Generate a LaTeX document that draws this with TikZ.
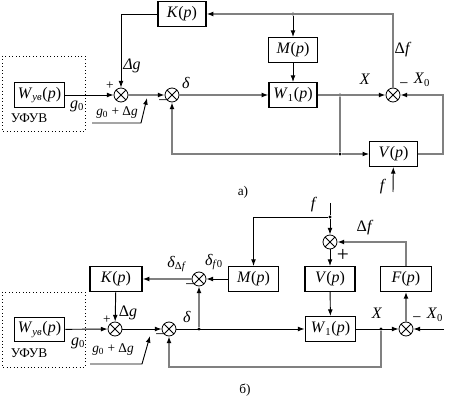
\documentclass[tikz,border=0pt]{standalone}
\usepackage{fontspec}
\setmainfont{Liberation Serif}
\usetikzlibrary{arrows.meta}

\newcommand{\vi}[1]{\textit{#1}}
\newcommand{\sbi}[1]{\textsubscript{#1}}

\begin{document}
\begin{tikzpicture}[
  x=0.75pt,y=-0.75pt,
  >={Latex[length=5pt,width=3.6pt,color=black]},
  blk/.style={draw,line width=0.9pt,minimum height=18.5pt,inner sep=1pt,
    font=\fontsize{12}{14}\selectfont},
  sumj/.style={draw,circle,minimum size=10.5pt,inner sep=0pt,line width=0.6pt,
    path picture={\draw[line width=0.6pt]
      (path picture bounding box.south west) -- (path picture bounding box.north east)
      (path picture bounding box.north west) -- (path picture bounding box.south east);}},
  dk/.style={draw=black,line width=0.7pt},
  gr/.style={draw=black!50,line width=0.9pt},
  jdot/.style={circle,fill=black,inner sep=0pt,minimum size=2.4pt},
  lbl/.style={inner sep=0pt,font=\fontsize{12}{14}\selectfont},
  slbl/.style={inner sep=0pt,font=\fontsize{10}{12}\selectfont}]
  \useasboundingbox (0,0) rectangle (454,399);

  % a)
  \draw[dotted,line width=0.6pt] (2,56) rectangle (85,131);
  \node[blk,minimum width=38pt]   (Wuva) at (39.5,95)  {\vi{W}\sbi{\vi{ув}}(\vi{p})};
  \node[blk,minimum width=36pt]   (Ka)   at (182,14)   {\vi{K}(\vi{p})};
  \node[blk,minimum width=36.5pt] (Ma)   at (293,50)   {\vi{M}(\vi{p})};
  \node[blk,minimum width=36pt]   (W1a)  at (293,95)   {\vi{W}\sbi{1}(\vi{p})};
  \node[blk,minimum width=35.5pt] (Va)   at (393.5,154) {\vi{V}(\vi{p})};
  \node[sumj] (s1a) at (121,95) {};
  \node[sumj] (s2a) at (172,95) {};
  \node[sumj] (s3a) at (393,95) {};
  \node[jdot] (ja1) at (293,14) {};
  \node[jdot] (ja2) at (340,95) {};
  \node[jdot] (ja3) at (340,154) {};
  \coordinate (x0a) at (443,95);
  \coordinate (fa)  at (393,192);
  \coordinate (pa1) at (92,123);
  \coordinate (pa2) at (141,123);
  \coordinate (pa3) at (147,98);

  \draw[dk,->] (Wuva) -- (s1a);
  \draw[dk,->] (Ka.west) -| (s1a);
  \draw[gr,->] (s1a) -- (s2a);
  \draw[gr,->] (s2a) -- (W1a);
  \draw[gr,->] (s3a) |- (Ka.east);
  \draw[dk,->] (ja1) -- (Ma);
  \draw[dk,->] (Ma) -- (W1a);
  \draw[gr,->] (W1a) -- (s3a);
  \draw[gr] (ja2) -- (ja3);
  \draw[gr,->] (ja3) -- (Va);
  \draw[gr,->] (ja3) -| (s2a);
  \draw[gr,->] (Va.east) -| (x0a) -- (s3a);
  \draw[dk,->] (fa) -- (Va);
  \draw[dk,->] (pa1) -- (pa2) -- (pa3);

  \node[slbl] (uva)  at (29,118)  {УФУВ};
  \node[lbl]  (g0a)  at (77,106)  {\vi{g}\sbi{0}};
  \node[slbl] (pla)  at (110,86)  {+};
  \node[lbl]  (dga)  at (132,66)  {\vi{Δg}};
  \node[slbl] (gga)  at (117,113) {\vi{g}\sbi{0} + Δ\vi{g}};
  \node[lbl]  (mia)  at (163,103) {−};
  \node[lbl]  (dla)  at (186,83)  {\vi{δ}};
  \node[lbl]  (xa)   at (365,79)  {\vi{X}};
  \node[lbl]  (mxa)  at (404,86)  {−};
  \node[lbl]  (x0la) at (422,80)  {\vi{X}\sbi{0}};
  \node[lbl]  (dfa)  at (403,50)  {Δ\vi{f}};
  \node[lbl]  (fla)  at (383,187) {\vi{f}};
  \node[slbl] (capa) at (243,192) {а)};

  % b)
  \draw[dotted,line width=0.6pt] (2,292) rectangle (85,367);
  \node[blk,minimum width=38pt]   (Wuvb) at (39.5,329.5) {\vi{W}\sbi{\vi{ув}}(\vi{p})};
  \node[blk,minimum width=39pt]   (Kb)   at (116,279)   {\vi{K}(\vi{p})};
  \node[blk,minimum width=38pt]   (Mb)   at (253.5,279) {\vi{M}(\vi{p})};
  \node[blk,minimum width=37.5pt] (Vb)   at (330,279)   {\vi{V}(\vi{p})};
  \node[blk,minimum width=38pt]   (Fb)   at (406,279)   {\vi{F}(\vi{p})};
  \node[blk,minimum width=38pt]   (W1b)  at (330.5,329) {\vi{W}\sbi{1}(\vi{p})};
  \node[sumj] (s1b) at (115,329) {};
  \node[sumj] (s2b) at (169,329) {};
  \node[sumj] (s3b) at (199,279) {};
  \node[sumj] (s4b) at (330,242) {};
  \node[sumj] (s5b) at (406,329) {};
  \node[jdot] (jb1) at (199,329) {};
  \node[jdot] (jb2) at (330,217) {};
  \node[jdot] (jb3) at (381,329) {};
  \coordinate (fb)  at (330,203);
  \coordinate (x0b) at (444,329);
  \coordinate (cb)  at (381,367);
  \coordinate (pb1) at (90,364);
  \coordinate (pb2) at (142,364);
  \coordinate (pb3) at (150,336);

  \draw[dk,->] (Wuvb) -- (s1b);
  \draw[dk,->] (Kb) -- (s1b);
  \draw[dk,->] (s1b) -- (s2b);
  \draw[dk,->] (s2b) -- (W1b);
  \draw[gr,->] (jb1) -- (s3b);
  \draw[gr,->] (s3b) -- (Kb);
  \draw[dk,->] (Mb) -- (s3b);
  \draw[dk] (fb) -- (jb2);
  \draw[dk,->] (jb2) -| (Mb);
  \draw[dk,->] (jb2) -- (s4b);
  \draw[gr,->] (Fb) |- (s4b);
  \draw[dk,->] (s4b) -- (Vb);
  \draw[dk,->] (Vb) -- (W1b);
  \draw[dk,->] (W1b) -- (s5b);
  \draw[gr,->] (s5b) -- (Fb);
  \draw[dk,->] (x0b) -- (s5b);
  \draw[gr,->] (jb3) -- (cb) -| (s2b);
  \draw[dk,->] (pb1) -- (pb2) -- (pb3);

  \node[slbl] (uvb)  at (29,353)  {УФУВ};
  \node[lbl]  (g0b)  at (78,343)  {\vi{g}\sbi{0}};
  \node[slbl] (plb)  at (107,320) {+};
  \node[lbl]  (dgb)  at (128,313) {Δ\vi{g}};
  \node[slbl] (ggb)  at (113,350) {\vi{g}\sbi{0} + Δ\vi{g}};
  \node[lbl]  (mib)  at (160,337) {−};
  \node[lbl]  (dlb)  at (187,317) {\vi{δ}};
  \node[lbl]  (ddfb) at (177,264) {\vi{δ}\sbi{Δ\vi{f}}};
  \node[lbl]  (dfob) at (214,262) {\vi{δ}\sbi{\vi{f}0}};
  \node[lbl]  (msb)  at (190,287) {−};
  \node[lbl]  (flb)  at (314,205) {\vi{f}};
  \node[lbl]  (dfb)  at (365,228) {Δ\vi{f}};
  \node[font=\fontsize{16}{18}\selectfont,inner sep=0pt] (plvb) at (343,255) {+};
  \node[lbl]  (xb)   at (377,313) {\vi{X}};
  \node[lbl]  (mxb)  at (417,320) {−};
  \node[lbl]  (x0lb) at (435,315) {\vi{X}\sbi{0}};
  \node[slbl] (capb) at (245,390) {б)};
\end{tikzpicture}
\end{document}
